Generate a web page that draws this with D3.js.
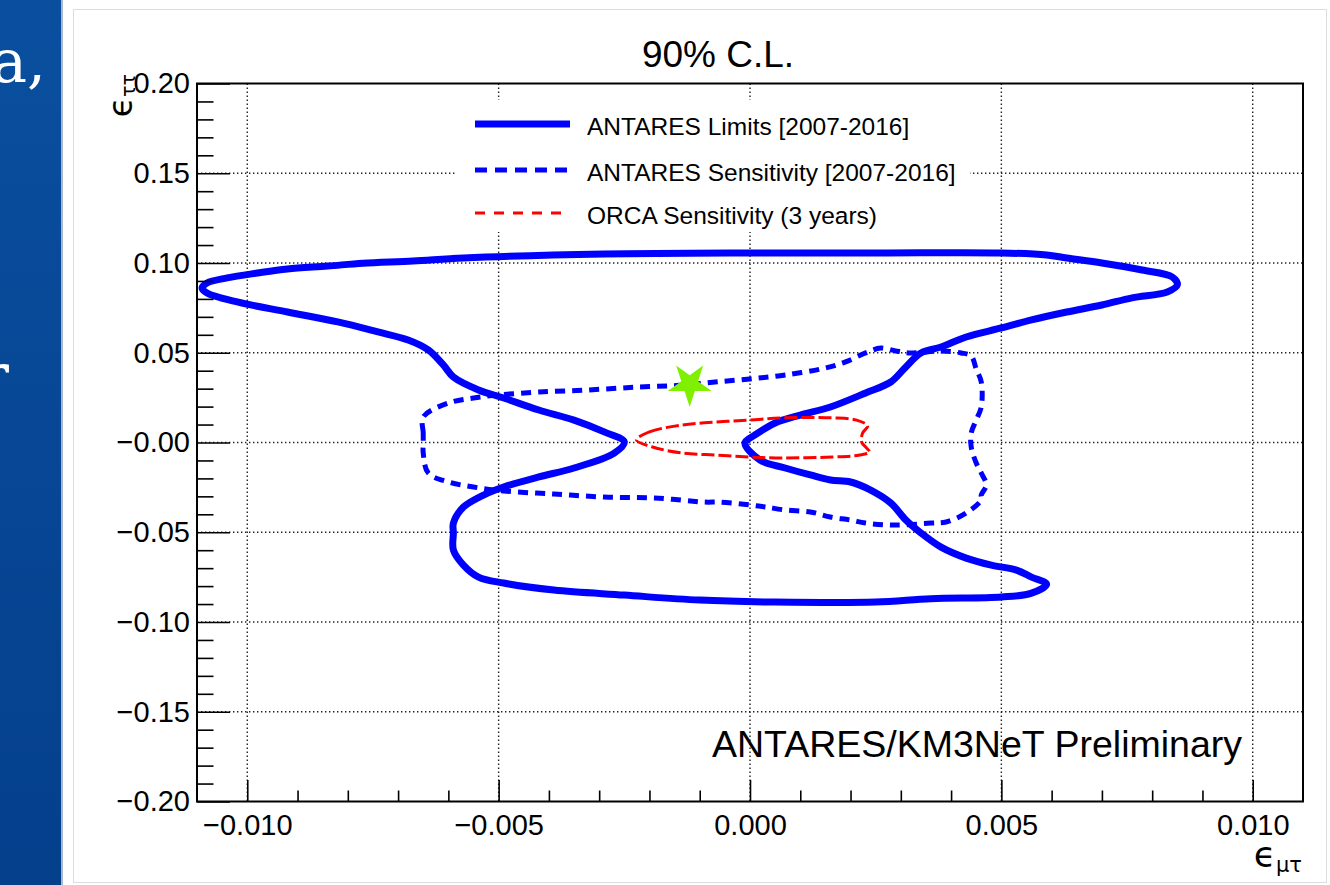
<!DOCTYPE html>
<html><head><meta charset="utf-8">
<script src="https://cdn.jsdelivr.net/npm/d3@7"></script>
<style>
body{margin:0;background:#fff}
svg{display:block}
text{font-family:"Liberation Sans",Arial,Helvetica,sans-serif;fill:#000}
</style>
</head><body>
<svg id="c" width="1330" height="885"></svg>
<script>
// ---------------- data ----------------
const title = "90% C.L.";
const watermark = "ANTARES/KM3NeT Preliminary";
const xTicks = [-0.010, -0.005, 0.000, 0.005, 0.010];
const xTickLabels = ["−0.010", "−0.005", "0.000", "0.005", "0.010"];
const yTicks = [-0.20, -0.15, -0.10, -0.05, 0.00, 0.05, 0.10, 0.15, 0.20];
const yTickLabels = ["−0.20", "−0.15", "−0.10", "−0.05", "−0.00", "0.05", "0.10", "0.15", "0.20"];
const seriesNames = ["ANTARES Limits [2007-2016]", "ANTARES Sensitivity [2007-2016]", "ORCA Sensitivity (3 years)"];

// ANTARES limits contour [eps_mutau, eps_tautau]
const limits = [
  [0.0059, 0.1045], [0.0050, 0.1056], [0.0025, 0.1056], [0.0000, 0.1056], [-0.0029, 0.1050],
  [-0.0057, 0.1028], [-0.0067, 0.1011], [-0.0077, 0.0999], [-0.0084, 0.0983], [-0.0092, 0.0967],
  [-0.0098, 0.0944], [-0.0104, 0.0917], [-0.0108, 0.0889], [-0.0109, 0.0861], [-0.0108, 0.0833],
  [-0.0102, 0.0783], [-0.0092, 0.0727], [-0.0082, 0.0672], [-0.0074, 0.0616], [-0.0068, 0.0571],
  [-0.0064, 0.0516], [-0.0061, 0.0432], [-0.0059, 0.0365], [-0.0054, 0.0293], [-0.0049, 0.0248],
  [-0.0042, 0.0181], [-0.0035, 0.0125], [-0.0029, 0.0059], [-0.0025, 0.0003], [-0.0027, -0.0059],
  [-0.0035, -0.0142], [-0.0042, -0.0192], [-0.0049, -0.0248], [-0.0053, -0.0293], [-0.0057, -0.0360],
  [-0.0059, -0.0449], [-0.0059, -0.0504], [-0.0059, -0.0599], [-0.0057, -0.0683], [-0.0054, -0.0750],
  [-0.0049, -0.0783], [-0.0039, -0.0822], [-0.0025, -0.0850], [-0.0010, -0.0878], [0.0005, -0.0889],
  [0.0025, -0.0889], [0.0036, -0.0870], [0.0050, -0.0861], [0.0056, -0.0839], [0.0059, -0.0789],
  [0.0056, -0.0750], [0.0053, -0.0711], [0.0048, -0.0683], [0.0043, -0.0644], [0.0038, -0.0583],
  [0.0034, -0.0504], [0.0031, -0.0432], [0.0028, -0.0337], [0.0024, -0.0265], [0.0020, -0.0220],
  [0.0016, -0.0209], [0.0012, -0.0181], [0.0007, -0.0142], [0.0002, -0.0098], [-0.0001, -0.0003],
  [0.0001, 0.0042], [0.0005, 0.0109], [0.0010, 0.0153], [0.0016, 0.0198], [0.0023, 0.0276],
  [0.0028, 0.0337], [0.0031, 0.0421], [0.0034, 0.0499], [0.0038, 0.0532], [0.0043, 0.0588],
  [0.0050, 0.0638], [0.0056, 0.0683], [0.0063, 0.0727], [0.0070, 0.0766], [0.0076, 0.0806],
  [0.0083, 0.0839], [0.0085, 0.0878], [0.0084, 0.0922], [0.0078, 0.0961], [0.0070, 0.1000],
  [0.0063, 0.1028]
];

// ANTARES sensitivity contour
const sensitivity = [
  [-0.0065, 0.0000], [-0.0065, 0.0053], [-0.0065, 0.0142], [-0.0060, 0.0220], [-0.0055, 0.0248],
  [-0.0050, 0.0265], [-0.0042, 0.0281], [-0.0032, 0.0293], [-0.0022, 0.0309], [-0.0013, 0.0320],
  [-0.0007, 0.0337], [0.0000, 0.0354], [0.0007, 0.0376], [0.0015, 0.0415], [0.0019, 0.0449],
  [0.0023, 0.0499], [0.0026, 0.0526], [0.0029, 0.0510], [0.0032, 0.0499], [0.0038, 0.0510],
  [0.0042, 0.0499], [0.0044, 0.0482], [0.0045, 0.0409], [0.0046, 0.0337], [0.0046, 0.0198],
  [0.0045, 0.0125], [0.0044, 0.0053], [0.0044, -0.0025], [0.0045, -0.0114], [0.0046, -0.0170],
  [0.0047, -0.0237], [0.0046, -0.0292], [0.0046, -0.0320], [0.0043, -0.0393], [0.0039, -0.0443],
  [0.0036, -0.0449], [0.0029, -0.0460], [0.0023, -0.0449], [0.0020, -0.0432], [0.0016, -0.0415],
  [0.0012, -0.0387], [0.0007, -0.0376], [0.0003, -0.0359], [0.0000, -0.0348], [-0.0006, -0.0332],
  [-0.0009, -0.0332], [-0.0019, -0.0309], [-0.0029, -0.0304], [-0.0039, -0.0287], [-0.0049, -0.0270],
  [-0.0055, -0.0248], [-0.0060, -0.0220], [-0.0064, -0.0170], [-0.0065, -0.0059]
];

// ORCA sensitivity contour
const orca = [
  [-0.00226, 0.0014], [-0.00200, 0.0059], [-0.00134, 0.0098], [-0.00067, 0.0114], [0.00000, 0.0125],
  [0.00065, 0.0137], [0.00164, 0.0137], [0.00212, 0.0125], [0.00234, 0.0092], [0.00224, 0.0053],
  [0.00222, 0.0003], [0.00232, -0.0031], [0.00238, -0.0053], [0.00218, -0.0070], [0.00164, -0.0081],
  [0.00065, -0.0086], [0.00000, -0.0081], [-0.00067, -0.0070], [-0.00134, -0.0059], [-0.00194, -0.0025]
];

const bestFit = [[-0.0012, 0.0326]];

// ---------------- drawing ----------------
(function () {
const svg = d3.select("#c");
const W = 1330, H = 885;
const pL = 197, pR = 1303, pT = 83.5, pB = 801.5;

// slide background pieces
const defs = svg.append("defs");
const grad = defs.append("linearGradient").attr("id", "bg").attr("x1", 0).attr("y1", 0).attr("x2", 0).attr("y2", 1);
grad.append("stop").attr("offset", "0%").attr("stop-color", "#0a4f9f");
grad.append("stop").attr("offset", "100%").attr("stop-color", "#043f8c");
svg.append("rect").attr("x", 0).attr("y", 0).attr("width", 61).attr("height", H).attr("fill", "url(#bg)");
svg.append("line").attr("x1", 62).attr("x2", 62).attr("y1", 0).attr("y2", H).attr("stroke", "#a9b8cc").attr("stroke-width", 2);
svg.append("text").attr("x", 46).attr("y", 82).attr("text-anchor", "end")
  .style("font-family", "'DejaVu Serif',serif").style("font-size", "60px").style("fill", "#fff").text("a,");
svg.append("text").attr("x", 9).attr("y", 396).attr("text-anchor", "end")
  .style("font-family", "'DejaVu Serif',serif").style("font-size", "60px").style("fill", "#fff").text("r");
svg.append("rect").attr("x", 73.5).attr("y", 9.5).attr("width", 1253).attr("height", 873)
  .attr("fill", "#fff").attr("stroke", "#dcdcdc").attr("stroke-width", 1);

const x = d3.scaleLinear().domain([-0.011, 0.011]).range([pL, pR]);
const y = d3.scaleLinear().domain([-0.20, 0.20]).range([pB, pT]);

// grid
const grid = svg.append("g").attr("stroke", "#222").attr("stroke-width", 1.4).attr("stroke-dasharray", "1.4,2.6");
grid.selectAll("line.gx").data(xTicks).join("line").attr("class", "gx")
  .attr("x1", d => x(d)).attr("x2", d => x(d)).attr("y1", pT).attr("y2", pB);
grid.selectAll("line.gy").data(yTicks.filter(d => Math.abs(d) < 0.199)).join("line").attr("class", "gy")
  .attr("y1", d => y(d)).attr("y2", d => y(d)).attr("x1", pL).attr("x2", pR);

// legend box (white, hides grid)
svg.append("rect").attr("x", 455).attr("y", 100).attr("width", 515).attr("height", 132).attr("fill", "#fff");

// contours
const line = d3.line().x(d => x(d[0])).y(d => y(d[1])).curve(d3.curveCatmullRomClosed.alpha(0.5));
svg.append("path").datum(limits).attr("d", line).attr("fill", "none")
  .attr("stroke", "#0000ff").attr("stroke-width", 7).attr("stroke-linejoin", "round");
svg.append("path").datum(sensitivity).attr("d", line).attr("fill", "none")
  .attr("stroke", "#0000ff").attr("stroke-width", 5).attr("stroke-dasharray", "10,7");
svg.append("path").datum(orca).attr("d", line).attr("fill", "none")
  .attr("stroke", "#ff0000").attr("stroke-width", 3).attr("stroke-dasharray", "13,4");

// star marker
svg.selectAll("path.star").data(bestFit).join("path").attr("class", "star")
  .attr("d", d3.symbol(d3.symbolStar, 23 * 23 / 0.8908130915292852))
  .attr("transform", d => `translate(${x(d[0])},${y(d[1])}) rotate(180)`)
  .attr("fill", "#7ff000");

// axes
svg.append("g").attr("transform", `translate(${pL},0)`)
  .call(d3.axisLeft(y).tickValues(yTicks).tickSize(-33).tickPadding(7).tickFormat((d, i) => yTickLabels[i]));
const yMinor = d3.range(-20, 21).filter(k => k % 5 !== 0).map(k => k / 100);
svg.append("g").attr("transform", `translate(${pL},0)`)
  .call(d3.axisLeft(y).tickValues(yMinor).tickSize(-16.5).tickFormat(""));
svg.append("g").attr("transform", `translate(0,${pB})`)
  .call(d3.axisBottom(x).tickValues(xTicks).tickSize(-21.5).tickPadding(13).tickFormat((d, i) => xTickLabels[i]));
const xMinor = d3.range(-10, 11).filter(k => k % 5 !== 0).map(k => k / 1000);
svg.append("g").attr("transform", `translate(0,${pB})`)
  .call(d3.axisBottom(x).tickValues(xMinor).tickSize(-11).tickFormat(""));
svg.selectAll(".domain").remove();
svg.selectAll(".tick line").attr("stroke", "#000").attr("stroke-width", 1.6);
svg.selectAll(".tick text").style("font-size", "29px").style("font-family", "'Liberation Sans',Arial,sans-serif").attr("fill", "#000");

// frame
svg.append("rect").attr("x", pL).attr("y", pT).attr("width", pR - pL).attr("height", pB - pT)
  .attr("fill", "none").attr("stroke", "#000").attr("stroke-width", 2);

// title
svg.append("text").attr("x", 718).attr("y", 67).attr("text-anchor", "middle").style("font-size", "37px").text(title);

// legend entries
const lg = svg.append("g");
const legY = [124, 170, 213];
lg.append("line").attr("x1", 475).attr("x2", 570).attr("y1", legY[0]).attr("y2", legY[0])
  .attr("stroke", "#0000ff").attr("stroke-width", 7);
lg.append("line").attr("x1", 475).attr("x2", 570).attr("y1", legY[1]).attr("y2", legY[1])
  .attr("stroke", "#0000ff").attr("stroke-width", 5).attr("stroke-dasharray", "12,8");
lg.append("line").attr("x1", 475).attr("x2", 565).attr("y1", legY[2]).attr("y2", legY[2])
  .attr("stroke", "#ff0000").attr("stroke-width", 3).attr("stroke-dasharray", "10,9");
lg.selectAll("text").data(seriesNames).join("text")
  .attr("x", 587).attr("y", (d, i) => legY[i] + 2).attr("dy", "0.35em")
  .style("font-size", "24.5px").text(d => d);

// watermark
svg.append("text").attr("x", 712).attr("y", 757).style("font-size", "37.5px").text(watermark);

// axis titles
const yt = svg.append("text").attr("transform", "translate(132,74) rotate(-90)").attr("text-anchor", "end")
  .style("font-family", "'DejaVu Sans',sans-serif");
yt.append("tspan").style("font-size", "33px").text("ϵ");
yt.append("tspan").style("font-size", "19px").attr("dy", 3).text("ττ");

const xt = svg.append("text").attr("x", 1302).attr("y", 867).attr("text-anchor", "end")
  .style("font-family", "'DejaVu Sans',sans-serif");
xt.append("tspan").style("font-size", "36px").text("ϵ");
xt.append("tspan").style("font-size", "21px").attr("dy", 5).text("μτ");
})();
</script>
</body></html>
